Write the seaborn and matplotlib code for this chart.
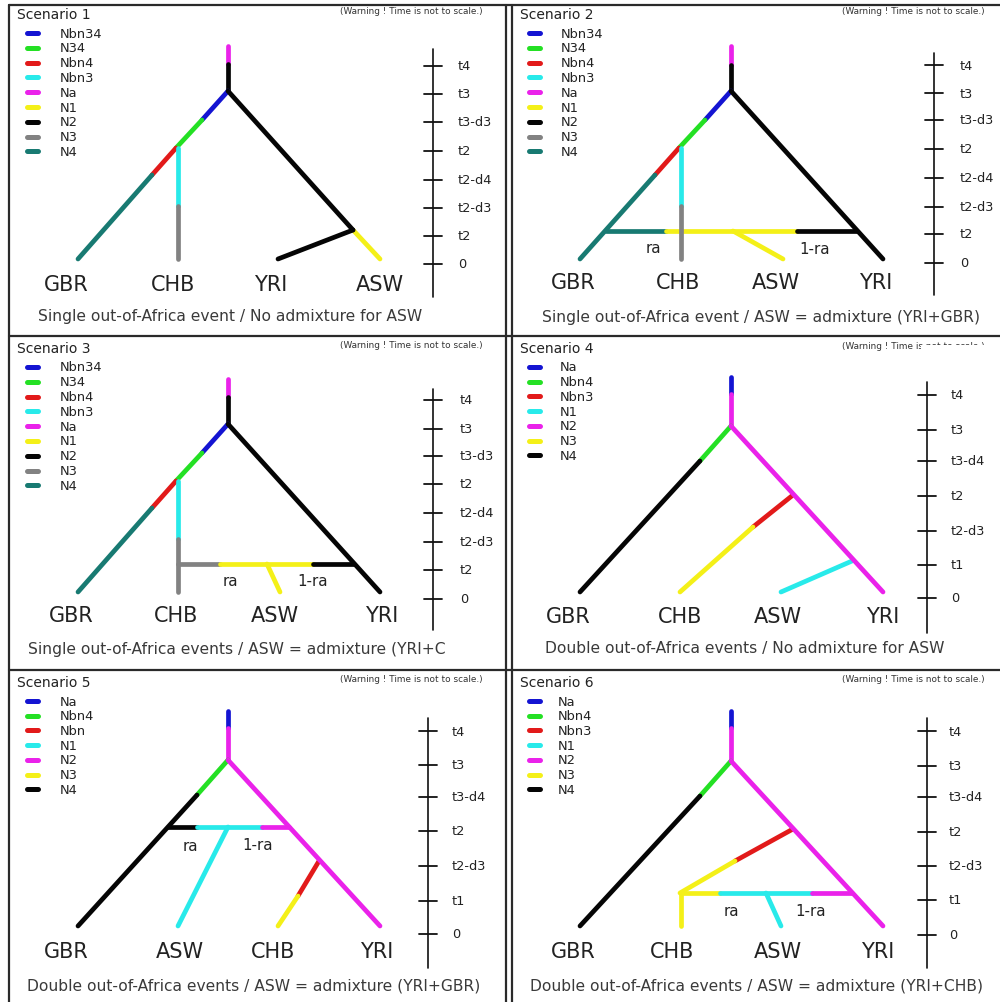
import matplotlib
matplotlib.use("Agg")
import matplotlib.pyplot as plt
import seaborn as sns
import pandas as pd
from matplotlib.transforms import Bbox, TransformedBbox

sns.set_theme(style="white")
plt.rcParams['font.family'] = ['DejaVu Sans']

# ---------------- data ----------------
TITLES = ["Scenario 1", "Scenario 2", "Scenario 3", "Scenario 4", "Scenario 5", "Scenario 6"]
WARNING = "(Warning ! Time is not to scale.)"
CAPTIONS = [
    "Single out-of-Africa event / No admixture for ASW",
    "Single out-of-Africa event / ASW = admixture (YRI+GBR)",
    "Single out-of-Africa events / ASW = admixture (YRI+CHB)",
    "Double out-of-Africa events / No admixture for ASW",
    "Double out-of-Africa events / ASW = admixture (YRI+GBR)",
    "Double out-of-Africa events / ASW = admixture (YRI+CHB)",
]

LEG_SINGLE = ["Nbn34", "N34", "Nbn4", "Nbn3", "Na", "N1", "N2", "N3", "N4"]
LEG_SINGLE_COL = ["blue", "green", "red", "cyan", "magenta", "yellow", "black", "gray", "teal"]
LEG_DOUBLE = ["Na", "Nbn4", "Nbn3", "N1", "N2", "N3", "N4"]
LEG_DOUBLE5 = ["Na", "Nbn4", "Nbn", "N1", "N2", "N3", "N4"]
LEG_DOUBLE_COL = ["blue", "green", "red", "cyan", "magenta", "yellow", "black"]

TICKS_SINGLE = ["t4", "t3", "t3-d3", "t2", "t2-d4", "t2-d3", "t2", "0"]
TICKS_DOUBLE = ["t4", "t3", "t3-d4", "t2", "t2-d3", "t1", "0"]

POPS_1 = ["GBR", "CHB", "YRI", "ASW"]
POPS_2 = ["GBR", "CHB", "ASW", "YRI"]
POPS_5 = ["GBR", "ASW", "CHB", "YRI"]

# tree branches: (population colour, polyline nodes (x, time-position))
TREE_1 = [
    ("magenta", [(228, 47), (228, 65)]), ("black", [(228, 65), (228, 92)]),
    ("blue", [(228, 92), (202, 121)]), ("green", [(202, 121), (176, 149)]),
    ("red", [(176, 149), (152, 176)]), ("teal", [(152, 176), (78, 260)]),
    ("cyan", [(178, 149), (178, 207)]), ("gray", [(178, 207), (178, 260)]),
    ("yellow", [(353, 231), (380, 260)]),
    ("black", [(228, 92), (353, 231)]), ("black", [(353, 231), (278, 260)]),
]
TREE_2 = [
    ("magenta", [(231, 47), (231, 66)]), ("black", [(231, 66), (231, 92)]),
    ("blue", [(231, 92), (205, 121)]), ("green", [(205, 121), (179, 149)]),
    ("red", [(179, 149), (155, 176)]), ("teal", [(155, 176), (80, 260)]),
    ("black", [(231, 92), (383, 260)]),
    ("yellow", [(233, 232), (283, 260)]),
    ("teal", [(106, 232), (166, 232)]), ("yellow", [(166, 232), (297, 232)]),
    ("black", [(297, 232), (357, 232)]),
    ("cyan", [(181, 149), (181, 207)]), ("gray", [(181, 207), (181, 260)]),
]
TREE_3 = [
    ("magenta", [(228, 45), (228, 63)]), ("black", [(228, 63), (228, 90)]),
    ("blue", [(228, 90), (202, 119)]), ("green", [(202, 119), (176, 147)]),
    ("red", [(176, 147), (152, 174)]), ("teal", [(152, 174), (78, 258)]),
    ("black", [(228, 90), (380, 258)]),
    ("yellow", [(267, 230), (280, 258)]),
    ("gray", [(178, 230), (220, 230)]), ("yellow", [(220, 230), (313, 230)]),
    ("black", [(313, 230), (354, 230)]),
    ("cyan", [(178, 147), (178, 205)]), ("gray", [(178, 205), (178, 258)]),
]
TREE_4 = [
    ("blue", [(231, 43), (231, 60)]), ("magenta", [(231, 60), (231, 92)]),
    ("green", [(231, 92), (200, 127)]), ("black", [(200, 127), (80, 258)]),
    ("red", [(293, 161), (253, 193)]), ("yellow", [(253, 193), (180, 258)]),
    ("cyan", [(352, 227), (281, 258)]),
    ("magenta", [(231, 92), (383, 258)]),
]
TREE_5 = [
    ("blue", [(228, 42), (228, 59)]), ("magenta", [(228, 59), (228, 91)]),
    ("green", [(228, 91), (197, 126)]), ("black", [(197, 126), (78, 257)]),
    ("cyan", [(228, 158), (178, 257)]),
    ("black", [(168, 158), (197, 158)]), ("cyan", [(197, 158), (262, 158)]),
    ("magenta", [(262, 158), (289, 158)]),
    ("red", [(319, 192), (298, 227)]), ("yellow", [(298, 227), (278, 257)]),
    ("magenta", [(228, 91), (380, 257)]),
]
TREE_6 = [
    ("blue", [(231, 42), (231, 59)]), ("magenta", [(231, 59), (231, 92)]),
    ("green", [(231, 92), (200, 127)]), ("black", [(200, 127), (80, 257)]),
    ("red", [(293, 160), (235, 192)]), ("yellow", [(235, 192), (180, 224)]),
    ("yellow", [(181, 224), (181, 257)]),
    ("cyan", [(266, 224), (281, 257)]),
    ("yellow", [(181, 224), (220, 224)]), ("cyan", [(220, 224), (312, 224)]),
    ("magenta", [(312, 224), (352, 224)]),
    ("magenta", [(231, 92), (383, 257)]),
]

COLORS = {"blue": "#1414d2", "green": "#24e024", "red": "#e21a1a", "cyan": "#28eaea",
          "magenta": "#ea22ea", "yellow": "#f4f018", "black": "#050505",
          "gray": "#828282", "teal": "#187a72"}

# ---------------- layout (positions only) ----------------
W, H = 1000, 1003
PANELS = [
    dict(origin=(0, 0), size=(500, 335), title=(17, 15), warn=(340, 12), leg_x=(27, 38, 60),
         leg_y0=34, leg_dy=14.8, tree=TREE_1, pops=POPS_1, pop_x=[66, 173, 271, 380], pop_y=285,
         axis_x=433, axis_y=(50, 298), ticks=[67, 95, 123, 152, 181, 209, 237, 265], tick_lab_x=458,
         tlabels=TICKS_SINGLE, legend=LEG_SINGLE, lcol=LEG_SINGLE_COL, cap=(230, 317), ra=None),
    dict(origin=(500, 0), size=(500, 335), title=(20, 15), warn=(342, 12), leg_x=(29, 40, 61),
         leg_y0=34, leg_dy=14.8, tree=TREE_2, pops=POPS_2, pop_x=[73, 178, 276, 376], pop_y=283,
         axis_x=434, axis_y=(54, 296), ticks=[66, 94, 121, 150, 179, 208, 235, 264], tick_lab_x=460,
         tlabels=TICKS_SINGLE, legend=LEG_SINGLE, lcol=LEG_SINGLE_COL, cap=(261, 318),
         ra=[(153, 249), (315, 250)]),
    dict(origin=(0, 335), size=(500, 335), title=(17, 14), warn=(340, 11), leg_x=(27, 38, 60),
         leg_y0=33, leg_dy=14.8, tree=TREE_3, pops=POPS_2, pop_x=[71, 176, 275, 382], pop_y=281,
         axis_x=433, axis_y=(55, 296), ticks=[66, 95, 122, 150, 179, 208, 236, 265], tick_lab_x=460,
         tlabels=TICKS_SINGLE, legend=LEG_SINGLE, lcol=LEG_SINGLE_COL, cap=(28, 315),
         ra=[(230, 247), (313, 247)]),
    dict(origin=(500, 335), size=(500, 335), title=(20, 14), warn=(342, 12), leg_x=(29, 40, 60),
         leg_y0=33, leg_dy=14.7, tree=TREE_4, pops=POPS_2, pop_x=[68, 180, 278, 383], pop_y=282,
         axis_x=427, axis_y=(48, 299), ticks=[61, 96, 127, 162, 197, 231, 264], tick_lab_x=451,
         tlabels=TICKS_DOUBLE, legend=LEG_DOUBLE, lcol=LEG_DOUBLE_COL, cap=(245, 314), ra=None),
    dict(origin=(0, 670), size=(500, 333), title=(17, 13), warn=(340, 10), leg_x=(27, 38, 60),
         leg_y0=32, leg_dy=14.7, tree=TREE_5, pops=POPS_5, pop_x=[66, 180, 273, 377], pop_y=282,
         axis_x=428, axis_y=(49, 299), ticks=[62, 96, 128, 162, 197, 232, 265], tick_lab_x=452,
         tlabels=TICKS_DOUBLE, legend=LEG_DOUBLE5, lcol=LEG_DOUBLE_COL, cap=(254, 316),
         ra=[(190, 177), (258, 176)]),
    dict(origin=(500, 670), size=(500, 333), title=(20, 13), warn=(342, 10), leg_x=(29, 40, 58),
         leg_y0=32, leg_dy=14.7, tree=TREE_6, pops=POPS_2, pop_x=[73, 172, 278, 378], pop_y=282,
         axis_x=427, axis_y=(49, 299), ticks=[62, 97, 128, 163, 197, 231, 266], tick_lab_x=449,
         tlabels=TICKS_DOUBLE, legend=LEG_DOUBLE, lcol=LEG_DOUBLE_COL, cap=(257, 316),
         ra=[(231, 242), (311, 242)]),
]

fig = plt.figure(figsize=(W / 100, H / 100), dpi=100)
fig.patch.set_facecolor("white")

# background axis for panel frames
bg = fig.add_axes([0, 0, 1, 1])
bg.set_xlim(0, W); bg.set_ylim(H, 0); bg.axis("off")
frame_kw = dict(color="#2a2a2a", lw=1.6)
for yy in (6, 337, 671):
    bg.plot([9, 1000], [yy, yy], **frame_kw)
for xx in (9, 506, 512):
    bg.plot([xx, xx], [6, 1003], **frame_kw)

TREE_LW = 3.4
TEXT_DARK = "#222222"
WARN_FS = 6.4
CAP_FS = 11.2

for i, p in enumerate(PANELS):
    x0, y0 = p["origin"]
    w, h = p["size"]
    ax = fig.add_axes([x0 / W, 1 - (y0 + h) / H, w / W, h / H])
    ax.set_xlim(0, w); ax.set_ylim(h, 0)
    ax.axis("off")
    ax.patch.set_alpha(0)

    # title + warning
    ax.text(*p["title"], TITLES[i], ha="left", va="center", fontsize=10, color=TEXT_DARK)
    if i == 3:
        t1 = ax.text(*p["warn"], WARNING, ha="left", va="center", fontsize=WARN_FS, color="#333333")
        t1.set_clip_box(TransformedBbox(Bbox([[0, 0], [421, h]]), ax.transData)); t1.set_clip_on(True)
        t2 = ax.text(*p["warn"], WARNING, ha="left", va="center", fontsize=WARN_FS, color="#333333")
        t2.set_clip_box(TransformedBbox(Bbox([[421, 0], [w, p["warn"][1] - 1]]), ax.transData)); t2.set_clip_on(True)
    else:
        ax.text(*p["warn"], WARNING, ha="left", va="center", fontsize=WARN_FS, color="#333333")

    # legend swatches
    lx0, lx1, ltx = p["leg_x"]
    for k, (lab, c) in enumerate(zip(p["legend"], p["lcol"])):
        yy = p["leg_y0"] + k * p["leg_dy"]
        ax.plot([lx0, lx1], [yy, yy], color=COLORS[c], lw=3.6, solid_capstyle="round")
        ax.text(ltx, yy, lab, ha="left", va="center", fontsize=9.4, color=TEXT_DARK)

    # tree branches via seaborn
    for s, (c, pts) in enumerate(p["tree"]):
        df = pd.DataFrame(pts, columns=["x", "t"])
        sns.lineplot(data=df, x="x", y="t", estimator=None, sort=False, color=COLORS[c],
                     lw=TREE_LW, solid_capstyle="round", ax=ax, legend=False)
    ax.set_xlim(0, w); ax.set_ylim(h, 0)
    ax.axis("off")

    # admixture labels
    if p["ra"]:
        ax.text(*p["ra"][0], "ra", ha="center", va="center", fontsize=10.8, color=TEXT_DARK)
        ax.text(*p["ra"][1], "1-ra", ha="center", va="center", fontsize=10.8, color=TEXT_DARK)

    # population labels
    for name, px in zip(p["pops"], p["pop_x"]):
        ax.text(px, p["pop_y"], name, ha="center", va="center", fontsize=15, color=TEXT_DARK)

    # time axis
    axx = p["axis_x"]
    ax.plot([axx, axx], list(p["axis_y"]), color="#111111", lw=1.2)
    for ty, tl in zip(p["ticks"], p["tlabels"]):
        ax.plot([axx - 9, axx + 9], [ty, ty], color="#111111", lw=1.3)
        ax.text(p["tick_lab_x"], ty, tl, ha="left", va="center", fontsize=9.3, color=TEXT_DARK)

    # caption
    if i == 2:
        tc = ax.text(*p["cap"], CAPTIONS[i], ha="left", va="center", fontsize=CAP_FS, color="#3a3a3a")
        tc.set_clip_box(TransformedBbox(Bbox([[0, 0], [445, h]]), ax.transData)); tc.set_clip_on(True)
    else:
        ax.text(*p["cap"], CAPTIONS[i], ha="center", va="center", fontsize=CAP_FS, color="#3a3a3a")

fig.savefig("out.png", dpi=100, facecolor="white")
